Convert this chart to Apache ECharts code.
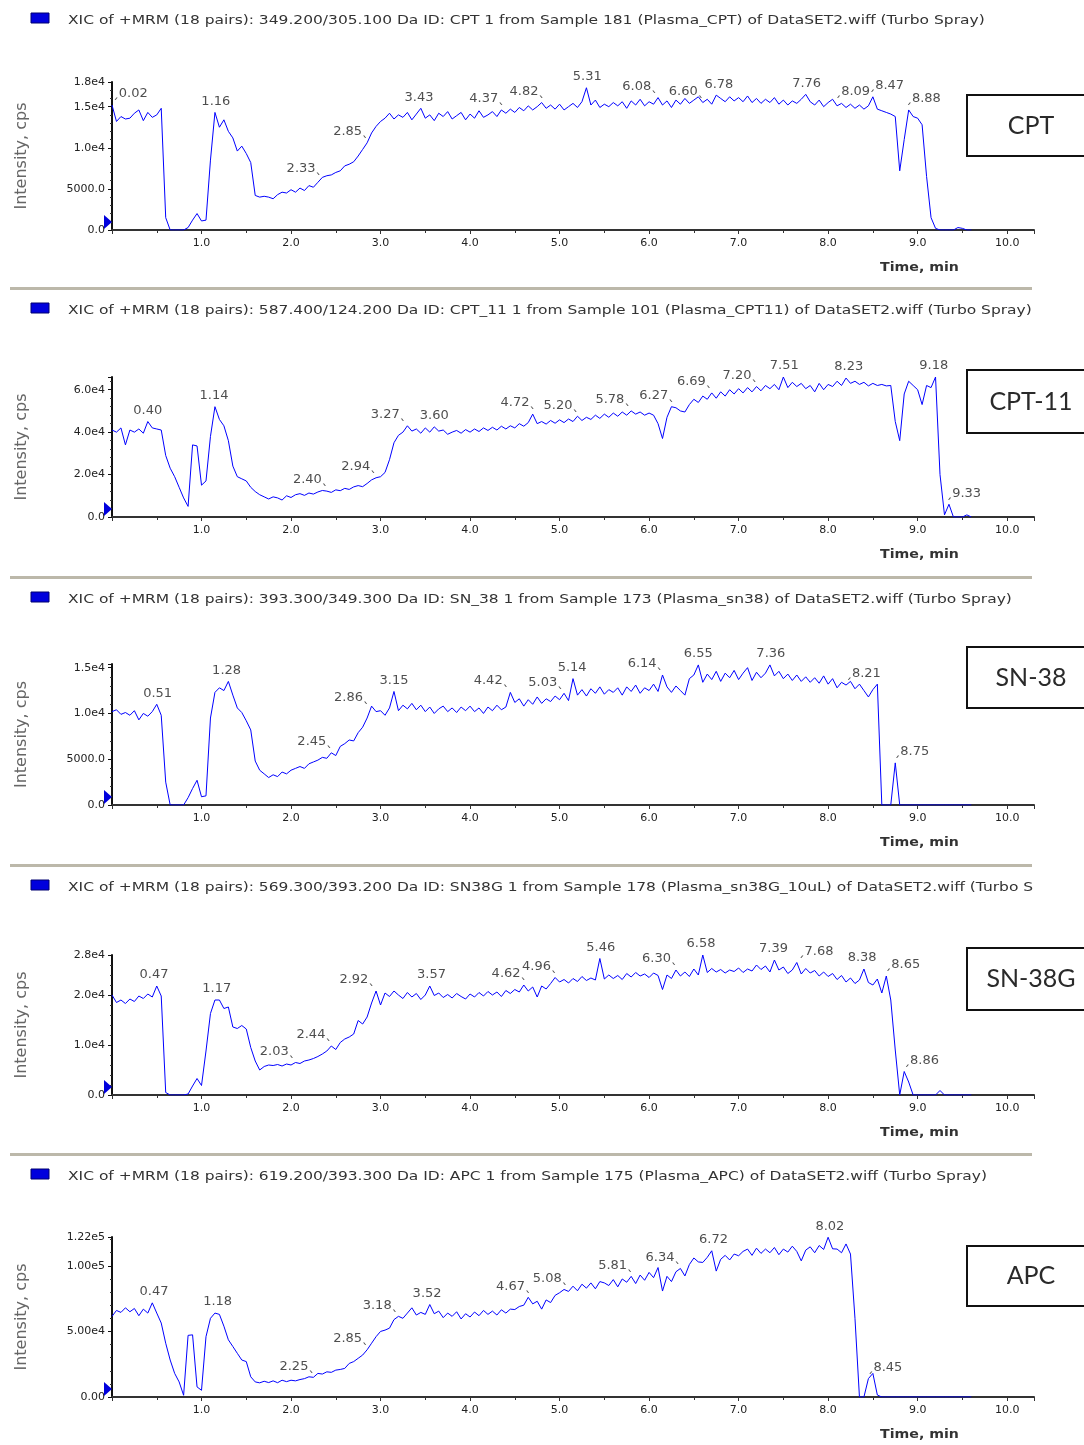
<!DOCTYPE html>
<html><head><meta charset="utf-8">
<script src="https://cdn.jsdelivr.net/npm/echarts@6/dist/echarts.min.js"></script>
<style>html,body{margin:0;padding:0;background:#fff}#chart{width:1084px;height:1445px}</style>
</head><body><div id="chart"></div>
<script>
// sampling interval of the chromatograms (min per point), first point at 0.00 min
const sampleStep = 0.05;

// ---------- CPT ----------
const cptHeader = 'XIC of +MRM (18 pairs): 349.200/305.100 Da ID: CPT 1 from Sample 181 (Plasma_CPT) of DataSET2.wiff (Turbo Spray)';
const cptValues = [
15200,13200,13800,13500,13600,14200,14600,13300,14300,13700,
14000,14800,1500,0,0,0,0,300,1200,2000,
1100,1200,8500,14300,12500,13400,12000,11200,9600,10200,
9300,8200,4200,4000,4100,4000,3800,4300,4600,4500,
4900,4600,5100,4800,5400,5200,5800,6400,6600,6700,
7000,7200,7800,8000,8300,9000,9800,10600,11800,12600,
13200,13600,14200,13500,14000,13700,14300,13400,14100,14800,
13600,14000,13300,14200,13800,14400,13500,13900,14300,13400,
14100,13600,14500,13700,14000,14400,13800,14600,14200,14700,
14300,14900,14500,15100,14600,15000,15500,14800,15200,14700,
15300,14600,15000,15400,14900,15600,17300,15200,15800,14900,
15300,15000,15500,15100,15600,14800,15700,15200,15900,15100,
15600,15300,16100,15200,15700,14900,15800,15300,16000,15400,
15800,16200,15500,15900,15300,16400,16000,15600,16200,15700,
16100,15600,16300,15500,16000,15400,15900,15500,16100,15300,
15800,15200,15700,15400,15900,16500,15600,15200,15800,15000,
15500,15900,15100,15400,14900,15300,14800,15200,14700,15100,
16200,14700,14500,14300,14100,13800,7200,11000,14600,13800,
13600,12800,6500,1500,200,0,0,0,0,300,
200,0,0];
const cptYTicks = [0, 5000, 10000, 15000, 18000];
const cptYLabels = ['0.0', '5000.0', '1.0e4', '1.5e4', '1.8e4'];
const cptPeakTimes = [0.02, 1.16, 2.33, 2.85, 3.43, 4.37, 4.82, 5.31, 6.08, 6.60, 6.78, 7.76, 8.09, 8.47, 8.88];
const cptPeakValues = [15200, 14300, 6100, 10600, 14800, 14600, 15500, 17300, 16100, 15500, 16400, 16500, 15500, 16200, 14600];
const cptPeakSides = ['r','c','l','l','c','l','l','c','l','l','c','c','r','r','r'];

// ---------- CPT-11 ----------
const cpt11Header = 'XIC of +MRM (18 pairs): 587.400/124.200 Da ID: CPT_11 1 from Sample 101 (Plasma_CPT11) of DataSET2.wiff (Turbo Spray)';
const cpt11Values = [
41000,40000,42000,34000,41000,40000,41500,39500,45000,42000,
41500,41000,29000,23000,19000,14000,9000,5000,34000,33500,
15000,17000,38000,52000,46000,43000,36000,24000,19000,18000,
17000,14000,12000,10500,9500,8500,9500,9000,8000,10000,
9200,10500,11000,10200,11300,10800,11800,12500,12200,11600,
12800,12400,13500,13000,14200,14800,14300,15800,17500,18500,
19000,21000,27000,35000,38500,40000,43000,40500,41500,39500,
42000,40000,42500,40500,41000,39000,40000,40800,39500,41200,
40000,41500,40300,42000,40800,42300,41000,42800,41500,43000,
42000,44000,42800,44500,48500,44000,45000,43800,45500,44200,
45800,44500,46200,45000,47500,45500,47000,46000,48000,46500,
48500,47000,49000,47500,49500,48000,50000,48500,49500,48000,
49000,48000,44000,37000,47000,52000,51500,50000,49500,53000,
55500,54000,57000,55500,58500,56000,59000,57000,60000,58000,
60500,58500,61000,59000,61500,59500,62000,60500,62500,60000,
66000,61000,63500,61500,63000,60500,62000,59000,63000,60000,
62500,61500,64000,62000,65500,63000,64000,62500,63500,61800,
63000,62000,62500,61800,62000,45000,36000,58000,64000,62000,
60000,53000,62000,61000,66000,20000,1000,6000,0,0,
0,1000,0];
const cpt11YTicks = [0, 20000, 40000, 60000];
const cpt11YLabels = ['0.0', '2.0e4', '4.0e4', '6.0e4'];
const cpt11PeakTimes = [0.40, 1.14, 2.40, 2.94, 3.27, 3.60, 4.72, 5.20, 5.78, 6.27, 6.69, 7.20, 7.51, 8.23, 9.18, 9.33];
const cpt11PeakValues = [45000, 52000, 12200, 18500, 43000, 42500, 48500, 47500, 50000, 52000, 58500, 61500, 66000, 65500, 66000, 6000];
const cpt11PeakSides = ['c','c','l','l','l','c','l','l','l','l','l','l','c','c','c','r'];

// ---------- SN-38 ----------
const sn38Header = 'XIC of +MRM (18 pairs): 393.300/349.300 Da ID: SN_38 1 from Sample 173 (Plasma_sn38) of DataSET2.wiff (Turbo Spray)';
const sn38Values = [
10200,10400,9900,10100,9800,10300,9300,10000,9700,10200,
11000,9800,2500,0,0,0,0,800,1800,2700,
900,1000,9500,12300,12800,12500,13500,12000,10600,10100,
9200,8200,4800,3800,3400,3000,3300,3100,3600,3400,
3800,4000,4200,4000,4500,4700,4900,5200,5100,5700,
5400,6400,6700,7100,7000,7900,8500,9500,10800,10200,
10300,9800,10600,12400,10300,10900,10500,11100,10400,10900,
10200,10700,10000,10500,10800,10200,10600,10100,10700,10300,
10800,10200,10600,10000,10700,10300,10900,10400,10700,12300,
11200,11600,10800,11500,11000,11800,11100,11600,11300,11900,
11500,12200,11400,13800,12000,12600,11900,12700,12200,12900,
12100,12600,12300,12800,12000,12900,12400,13100,12200,12800,
12500,13200,12400,14200,12900,12300,13000,12500,12000,13800,
14200,15300,13400,14300,13700,14600,13500,14400,13900,14700,
13700,14400,15000,13600,14500,13900,14400,15300,14100,14600,
13800,14300,13600,14200,13500,14000,13400,13900,13300,14100,
13200,13800,12800,13400,13100,13500,12700,13200,12500,11800,
12600,13200,0,0,0,4600,0,0,0,0,
0,0,0,0,0,0,0,0,0,0,
0,0,0];
const sn38YTicks = [0, 5000, 10000, 15000];
const sn38YLabels = ['0.0', '5000.0', '1.0e4', '1.5e4'];
const sn38PeakTimes = [0.51, 1.28, 2.45, 2.86, 3.15, 4.42, 5.03, 5.14, 6.14, 6.55, 7.36, 8.21, 8.75];
const sn38PeakValues = [11000, 13500, 5700, 10500, 12400, 12400, 12200, 13800, 14200, 15300, 15300, 13100, 4600];
const sn38PeakSides = ['c','c','l','l','c','l','l','c','l','c','c','r','r'];

// ---------- SN-38G ----------
const sn38gHeader = 'XIC of +MRM (18 pairs): 569.300/393.200 Da ID: SN38G 1 from Sample 178 (Plasma_sn38G_10uL) of DataSET2.wiff (Turbo Sp';
const sn38gValues = [
20000,18500,19000,18300,19200,18700,19800,19300,20200,19600,
21800,19800,500,0,0,0,0,200,1800,3300,
1900,8800,16300,19000,19000,17300,17600,13600,13300,13900,
13200,9500,6800,5000,5700,6000,5900,6100,5800,6200,
6000,6500,6300,6800,7000,7300,7700,8200,8800,9800,
9100,10500,11200,11600,12200,14900,14200,15600,18400,20800,
18000,20400,19700,20800,20000,19300,20500,19600,20300,19100,
20000,21800,19900,20400,19500,20100,19400,20300,19700,19200,
20200,19600,20500,19800,20700,20000,20600,19700,20900,20300,
21100,20600,22000,20800,21600,19600,21800,21200,22300,23500,
22600,23100,22400,23300,22700,23700,22900,23400,23000,27300,
23200,24000,23300,23900,23100,24300,23600,24500,23800,24200,
23500,24400,23900,21100,24000,23300,25000,23800,24600,23700,
25200,24000,28000,24500,25300,24600,25100,24400,25000,24700,
25400,24500,25200,24800,26000,25100,25800,24600,27000,25000,
25600,24300,25000,26500,24200,25300,24400,24900,23800,24600,
23700,24300,23100,23900,22600,23400,22300,23000,25200,22500,
22000,23200,20400,23800,19000,9000,0,4700,2600,0,
0,0,0,0,0,900,0,0,0,0,
0,0,0];
const sn38gYTicks = [0, 10000, 20000, 28000];
const sn38gYLabels = ['0.0', '1.0e4', '2.0e4', '2.8e4'];
const sn38gPeakTimes = [0.47, 1.17, 2.03, 2.44, 2.92, 3.57, 4.62, 4.96, 5.46, 6.30, 6.58, 7.39, 7.68, 8.38, 8.65, 8.86];
const sn38gPeakValues = [21800, 19000, 6500, 9800, 20800, 21800, 22000, 23500, 27300, 25000, 28000, 27000, 26500, 25200, 23800, 4700];
const sn38gPeakSides = ['c','c','l','l','l','c','l','l','c','l','c','c','r','c','r','r'];

// ---------- APC ----------
const apcHeader = 'XIC of +MRM (18 pairs): 619.200/393.300 Da ID: APC 1 from Sample 175 (Plasma_APC) of DataSET2.wiff (Turbo Spray)';
const apcValues = [
61500,66000,64500,68000,65000,67500,62000,67000,64000,71800,
64000,56400,41000,28200,18000,11500,1300,47000,47400,7700,
5100,46000,60000,64000,63000,54000,43600,38500,33300,28200,
27000,15400,11500,10800,12000,11000,12300,10900,12800,11700,
12800,12300,13300,14000,15400,15000,18000,17500,19200,18800,
20500,21000,21800,25600,27000,29500,32000,36000,41000,46000,
50000,51000,52500,59000,61500,60000,64000,68000,62500,64500,
63000,70500,63500,65500,60500,64000,61500,65000,59500,63500,
61000,64800,62000,66000,63000,65500,62500,66500,64000,67000,
66700,69000,70000,76000,71000,73000,67000,74000,72000,77500,
79500,82000,80500,84500,81000,86000,83000,87000,82500,88000,
87000,85000,89500,84000,90000,87500,92000,86500,93000,89000,
95000,91000,98700,80800,92000,88000,95500,98000,92300,101000,
106000,103000,102600,106500,111500,96000,105000,108000,104500,109000,
107700,111000,112800,108000,113500,109500,112800,110000,114000,108500,
112800,110500,115000,111000,103800,112000,114500,110000,115500,112500,
121800,113000,112800,110000,116700,109000,60000,0,0,14000,
18000,1500,0,0,0,0,0,0,0,0,
0,0,0,0,0,0,0,0,0,0,
0,0,0];
const apcYTicks = [0, 50000, 100000, 122000];
const apcYLabels = ['0.00', '5.00e4', '1.00e5', '1.22e5'];
const apcPeakTimes = [0.47, 1.18, 2.25, 2.85, 3.18, 3.52, 4.67, 5.08, 5.81, 6.34, 6.72, 8.02, 8.45];
const apcPeakValues = [71800, 64000, 15000, 36000, 61500, 70500, 76000, 82000, 92000, 98000, 111500, 121800, 14000];
const apcPeakSides = ['c','c','l','l','l','c','l','l','l','l','c','c','r'];

const compoundNames = ['CPT', 'CPT-11', 'SN-38', 'SN-38G', 'APC'];
const xTickLabels = ['1.0','2.0','3.0','4.0','5.0','6.0','7.0','8.0','9.0','10.0'];

// ---------- layout ----------
const FONT = 'DejaVu Sans';
const panels = [
  {header: cptHeader, values: cptValues, yMax: 18000, yInt: 5000, yTicks: cptYTicks, yLabels: cptYLabels,
   pT: cptPeakTimes, pV: cptPeakValues, pS: cptPeakSides, top: 82, height: 148, headY: 20, box: [95, 61]},
  {header: cpt11Header, values: cpt11Values, yMax: 66000, yInt: 20000, yTicks: cpt11YTicks, yLabels: cpt11YLabels,
   pT: cpt11PeakTimes, pV: cpt11PeakValues, pS: cpt11PeakSides, top: 377, height: 140, headY: 310, box: [370, 63]},
  {header: sn38Header, values: sn38Values, yMax: 15400, yInt: 5000, yTicks: sn38YTicks, yLabels: sn38YLabels,
   pT: sn38PeakTimes, pV: sn38PeakValues, pS: sn38PeakSides, top: 664, height: 141, headY: 599, box: [647, 61]},
  {header: sn38gHeader, values: sn38gValues, yMax: 28000, yInt: 10000, yTicks: sn38gYTicks, yLabels: sn38gYLabels,
   pT: sn38gPeakTimes, pV: sn38gPeakValues, pS: sn38gPeakSides, top: 955, height: 140, headY: 887, box: [948, 62]},
  {header: apcHeader, values: apcValues, yMax: 122000, yInt: 50000, yTicks: apcYTicks, yLabels: apcYLabels,
   pT: apcPeakTimes, pV: apcPeakValues, pS: apcPeakSides, top: 1237, height: 160, headY: 1176, box: [1246, 60]}
];
const GRID_LEFT = 112, X_MAX = 10.3, GRID_W = 922;

const grids = [], xAxes = [], yAxes = [], series = [], graphics = [];

function peakLabel(side, t) {
  const txt = t.toFixed(2);
  const base = {show: true, color: '#222', fontSize: 13, fontFamily: FONT};
  if (side === 'l') return Object.assign(base, {position: 'left', distance: 0, offset: [2, -11], formatter: txt + '\u02CE'});
  if (side === 'r') return Object.assign(base, {position: 'right', distance: 0, offset: [-2, -11], formatter: '\u02CF' + txt});
  return Object.assign(base, {position: 'top', distance: 4, formatter: txt});
}

panels.forEach((p, i) => {
  grids.push({left: GRID_LEFT, top: p.top, width: GRID_W, height: p.height, containLabel: false});
  xAxes.push({
    type: 'value', gridIndex: i, min: 0, max: X_MAX, interval: 1,
    axisLine: {show: true, lineStyle: {color: '#333', width: 2}},
    axisTick: {show: true, length: 4, lineStyle: {color: '#333', width: 1}},
    minorTick: {show: true, splitNumber: 2, length: 3, lineStyle: {color: '#333'}},
    splitLine: {show: false},
    axisLabel: {
      color: '#222', fontSize: 11, fontFamily: FONT, margin: 8, showMinLabel: true, showMaxLabel: true,
      formatter: v => { const k = Math.round(v); return (Math.abs(v - k) < 1e-6 && k >= 1 && k <= 10) ? xTickLabels[k - 1] : ''; }
    }
  });
  yAxes.push({
    type: 'value', gridIndex: i, min: 0, max: p.yMax, interval: p.yInt,
    name: 'Intensity, cps', nameLocation: 'middle', nameGap: 82, nameRotate: 90,
    nameTextStyle: {color: '#666', fontSize: 16, fontFamily: FONT},
    axisLine: {show: true, lineStyle: {color: '#111', width: 2}},
    axisTick: {show: true, length: 4, lineStyle: {color: '#111'}},
    minorTick: {show: true, splitNumber: 5, length: 2, lineStyle: {color: '#333'}},
    splitLine: {show: false},
    axisLabel: {
      color: '#222', fontSize: 11, fontFamily: FONT, margin: 7, showMaxLabel: true,
      formatter: v => { const k = p.yTicks.findIndex(t => Math.abs(t - v) < 1e-6); return k >= 0 ? p.yLabels[k] : ''; }
    }
  });
  series.push({
    type: 'line', xAxisIndex: i, yAxisIndex: i, showSymbol: false, silent: true,
    data: p.values.map((v, j) => [+(j * sampleStep).toFixed(2), v]),
    lineStyle: {color: '#0000ff', width: 1}, clip: true,
    markPoint: {
      silent: true,
      data: [{coord: [0, 0], symbol: 'triangle', symbolSize: [14, 8], symbolRotate: -90, symbolOffset: [-4, -8],
              itemStyle: {color: '#0000dd'}, label: {show: false}}]
    }
  });
  series.push({
    type: 'scatter', xAxisIndex: i, yAxisIndex: i, silent: true, symbolSize: 1,
    itemStyle: {color: 'rgba(0,0,0,0)'},
    data: p.pT.map((t, j) => ({value: [t, p.pV[j]], label: peakLabel(p.pS[j], t)}))
  });

  // header strip
  graphics.push({type: 'rect', shape: {x: 31, y: p.headY - 7, width: 18, height: 10},
    style: {fill: '#0000dd', stroke: '#000070', lineWidth: 1}});
  graphics.push({type: 'text', x: 68, y: p.headY + 1, scaleX: 1.19,
    style: {text: p.header, fill: '#333', font: '13px "DejaVu Sans"', textVerticalAlign: 'middle'}});
  graphics.push({type: 'rect', shape: {x: 1033, y: p.headY - 9, width: 51, height: 20}, style: {fill: '#fff'}});
  // x axis title
  graphics.push({type: 'text', x: 880, y: p.top + p.height + 38, scaleX: 1.09,
    style: {text: 'Time, min', fill: '#333', font: 'bold 13px "DejaVu Sans"', textVerticalAlign: 'middle'}});
  // compound box
  graphics.push({type: 'rect', shape: {x: 967, y: p.box[0], width: 130, height: p.box[1]},
    style: {fill: '#fff', stroke: '#111', lineWidth: 2}});
  graphics.push({type: 'text', x: 1031, y: p.box[0] + p.box[1] / 2,
    style: {text: compoundNames[i], fill: '#2a2a2a', font: '25px Lato', textAlign: 'center', textVerticalAlign: 'middle'}});
  if (i > 0) {
    graphics.push({type: 'rect', shape: {x: 10, y: p.headY - 23, width: 1022, height: 3},
      style: {fill: '#bcb8aa'}});
  }
});

const chart = echarts.init(document.getElementById('chart'), null, {renderer: 'canvas'});
chart.setOption({
  animation: false,
  backgroundColor: '#fff',
  textStyle: {fontFamily: FONT},
  grid: grids, xAxis: xAxes, yAxis: yAxes, series: series,
  graphic: graphics
});
</script></body></html>
